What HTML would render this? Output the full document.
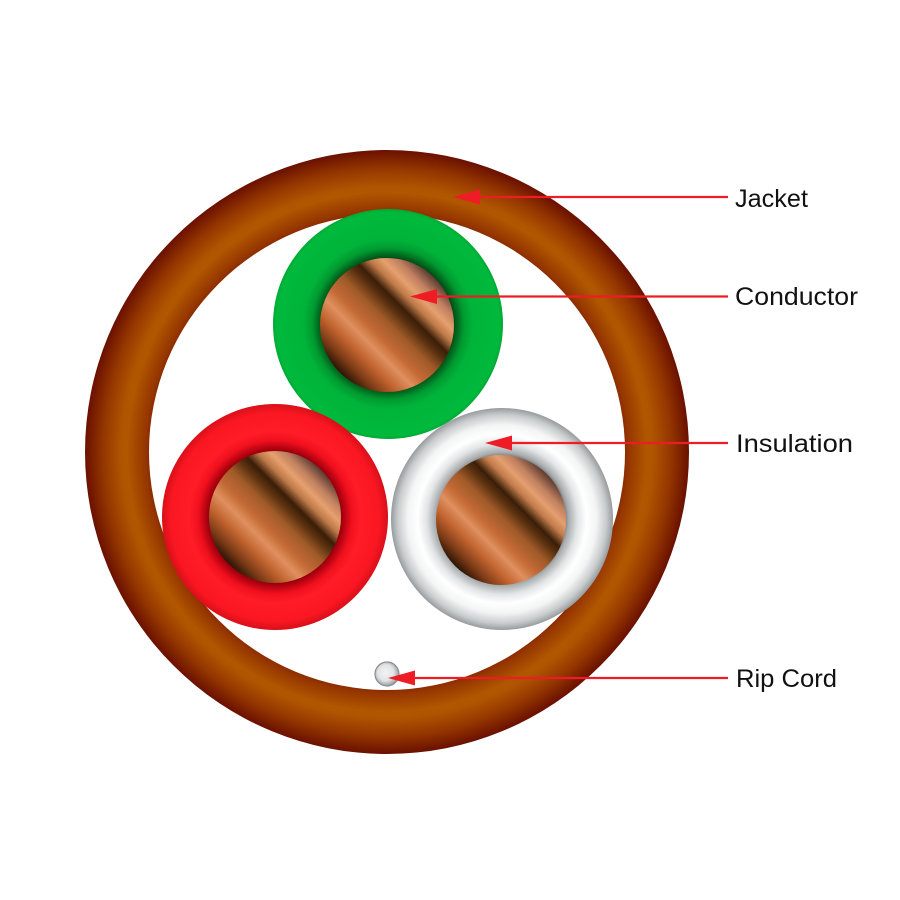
<!DOCTYPE html>
<html>
<head>
<meta charset="utf-8">
<style>
  html, body { margin: 0; padding: 0; background: #ffffff; }
  svg { display: block; }
</style>
</head>
<body>
<svg width="900" height="900" viewBox="0 0 900 900" xmlns="http://www.w3.org/2000/svg">
  <defs>
    <radialGradient id="jacket" gradientUnits="userSpaceOnUse" cx="387" cy="452" r="302">
      <stop offset="0.78" stop-color="#862600"/>
      <stop offset="0.80" stop-color="#953600"/>
      <stop offset="0.86" stop-color="#b05700"/>
      <stop offset="0.88" stop-color="#af5500"/>
      <stop offset="0.94" stop-color="#943600"/>
      <stop offset="1.0" stop-color="#6a1000"/>
    </radialGradient>
    <radialGradient id="green" cx="0.5" cy="0.5" r="0.5">
      <stop offset="0.55" stop-color="#003a10"/>
      <stop offset="0.59" stop-color="#005c1a"/>
      <stop offset="0.66" stop-color="#009a30"/>
      <stop offset="0.74" stop-color="#00b43a"/>
      <stop offset="0.97" stop-color="#00b93b"/>
      <stop offset="1" stop-color="#00a835"/>
    </radialGradient>
    <radialGradient id="red" cx="0.5" cy="0.5" r="0.5">
      <stop offset="0.56" stop-color="#7a0008"/>
      <stop offset="0.60" stop-color="#a8000e"/>
      <stop offset="0.68" stop-color="#f0101e"/>
      <stop offset="0.76" stop-color="#ff1c26"/>
      <stop offset="0.92" stop-color="#fb1722"/>
      <stop offset="1" stop-color="#d8101a"/>
    </radialGradient>
    <radialGradient id="white" cx="0.5" cy="0.5" r="0.5">
      <stop offset="0.57" stop-color="#7e8284"/>
      <stop offset="0.60" stop-color="#a8acae"/>
      <stop offset="0.68" stop-color="#e2e4e5"/>
      <stop offset="0.76" stop-color="#ffffff"/>
      <stop offset="0.85" stop-color="#f3f4f4"/>
      <stop offset="0.94" stop-color="#c8cbcc"/>
      <stop offset="1" stop-color="#979b9e"/>
    </radialGradient>
    <linearGradient id="copper" x1="0.146" y1="0.854" x2="0.854" y2="0.146">
      <stop offset="0.00" stop-color="#2a1406"/>
      <stop offset="0.09" stop-color="#7a3a15"/>
      <stop offset="0.20" stop-color="#c0622e"/>
      <stop offset="0.31" stop-color="#e0905e"/>
      <stop offset="0.40" stop-color="#c46a36"/>
      <stop offset="0.52" stop-color="#a05a28"/>
      <stop offset="0.61" stop-color="#5c3210"/>
      <stop offset="0.67" stop-color="#3a1e08"/>
      <stop offset="0.75" stop-color="#c07a4a"/>
      <stop offset="0.82" stop-color="#e6a06e"/>
      <stop offset="0.90" stop-color="#c08060"/>
      <stop offset="1.00" stop-color="#5a3a30"/>
    </linearGradient>
    <radialGradient id="cord" cx="0.45" cy="0.45" r="0.55">
      <stop offset="0" stop-color="#f2f3f4"/>
      <stop offset="0.6" stop-color="#e2e4e5"/>
      <stop offset="1" stop-color="#9a9ea0"/>
    </radialGradient>
  </defs>

  <rect x="0" y="0" width="900" height="900" fill="#ffffff"/>

  <!-- Jacket -->
  <circle cx="387" cy="452" r="302" fill="url(#jacket)"/>
  <circle cx="387" cy="452" r="238" fill="#ffffff"/>

  <!-- Green conductor -->
  <circle cx="388" cy="324" r="115" fill="url(#green)"/>
  <circle cx="387" cy="325" r="67" fill="url(#copper)"/>

  <!-- Red conductor -->
  <circle cx="275" cy="517" r="113" fill="url(#red)"/>
  <circle cx="275" cy="517" r="66" fill="url(#copper)"/>

  <!-- White conductor -->
  <circle cx="502" cy="519" r="111" fill="url(#white)"/>
  <circle cx="501" cy="520" r="65" fill="url(#copper)"/>

  <!-- Rip cord -->
  <circle cx="387" cy="674" r="12" fill="url(#cord)" stroke="#8a8e90" stroke-width="1.2"/>

  <!-- Arrows -->
  <g stroke="#ee1c25" stroke-width="2.2" fill="none">
    <line x1="478" y1="197" x2="728" y2="197"/>
    <line x1="435" y1="296.5" x2="728" y2="296.5"/>
    <line x1="510" y1="443" x2="728" y2="443"/>
    <line x1="413" y1="678" x2="728" y2="678"/>
  </g>
  <g fill="#ee1c25">
    <polygon points="453,197 480,189.5 480,204.5"/>
    <polygon points="410,296.5 437,289 437,304"/>
    <polygon points="485,443 512,435.5 512,450.5"/>
    <polygon points="388,678 415,670.5 415,685.5"/>
  </g>

  <!-- Labels -->
  <g font-family="'Liberation Sans', 'DejaVu Sans', sans-serif" font-size="25" fill="#111111">
    <text x="735" y="207" textLength="73" lengthAdjust="spacingAndGlyphs">Jacket</text>
    <text x="735" y="305" textLength="123" lengthAdjust="spacingAndGlyphs">Conductor</text>
    <text x="736" y="452" textLength="117" lengthAdjust="spacingAndGlyphs">Insulation</text>
    <text x="736" y="687" textLength="101" lengthAdjust="spacingAndGlyphs">Rip Cord</text>
  </g>
</svg>
</body>
</html>
